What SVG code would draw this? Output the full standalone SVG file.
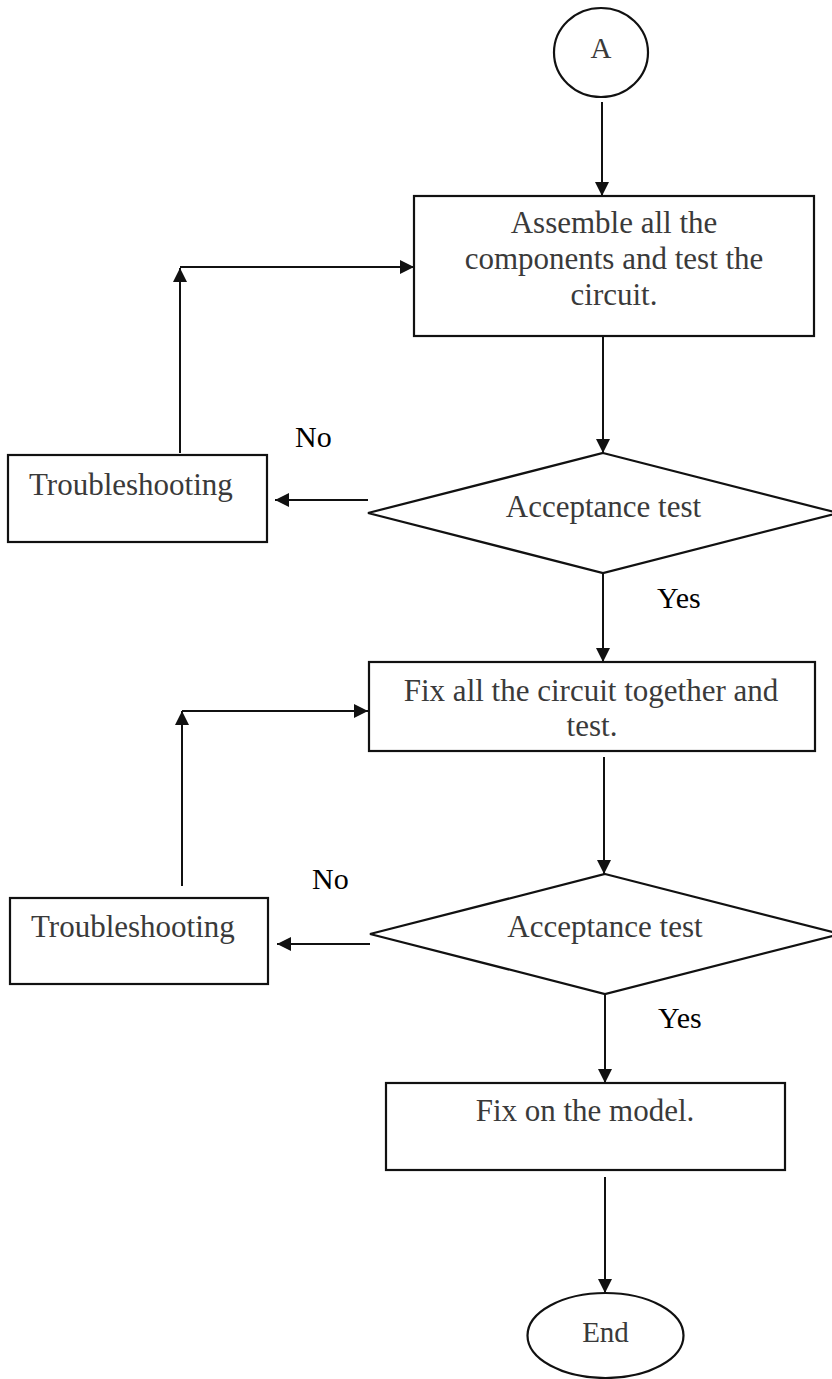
<svg xmlns="http://www.w3.org/2000/svg" width="832" height="1379" viewBox="0 0 832 1379">
<style>
.shape{fill:#fff;stroke:#111;stroke-width:2.2}
.conn{fill:none;stroke:#111;stroke-width:2}
.t{font-family:"Liberation Serif","Times New Roman",serif;font-size:31px;fill:#3a3a3a}
.c{text-anchor:middle}
.lbl{font-family:"Liberation Serif","Times New Roman",serif;font-size:30px;fill:#000}
</style>
<defs>
<marker id="ah" markerUnits="userSpaceOnUse" markerWidth="14" markerHeight="14" refX="13" refY="6.5" orient="auto" viewBox="0 0 13 13">
<path d="M0,0 L13,6.5 L0,13 z" fill="#111"/>
</marker>
</defs>
<rect width="832" height="1379" fill="#fff"/>
<g id="connectors">
<path class="conn" d="M602,102 L602,196" marker-end="url(#ah)"/>
<path class="conn" d="M603,336 L603,453" marker-end="url(#ah)"/>
<path class="conn" d="M368,500 L275,500" marker-end="url(#ah)"/>
<path class="conn" d="M180,453 L180,268" marker-end="url(#ah)"/>
<path class="conn" d="M180,267 L414,267" marker-end="url(#ah)"/>
<path class="conn" d="M603,573 L603,662" marker-end="url(#ah)"/>
<path class="conn" d="M604,757 L604,874" marker-end="url(#ah)"/>
<path class="conn" d="M370,944 L277,944" marker-end="url(#ah)"/>
<path class="conn" d="M182,886 L182,711" marker-end="url(#ah)"/>
<path class="conn" d="M182,711 L368,711" marker-end="url(#ah)"/>
<path class="conn" d="M605,994 L605,1083" marker-end="url(#ah)"/>
<path class="conn" d="M605,1177 L605,1293" marker-end="url(#ah)"/>
</g>
<g id="start">
<ellipse class="shape" cx="601" cy="52.5" rx="47" ry="44.5"/>
<text class="t c" x="601" y="58" style="font-size:29px">A</text>
</g>
<g id="assemble">
<rect class="shape" x="414" y="196" width="400" height="140"/>
<text class="t c" x="614" y="233">Assemble all the</text>
<text class="t c" x="614" y="269">components and test the</text>
<text class="t c" x="614" y="305">circuit.</text>
</g>
<g id="decision1">
<polygon class="shape" points="603,453 838,513 603,573 368,513"/>
<text class="t c" x="603.5" y="517">Acceptance test</text>
</g>
<g id="trouble1">
<rect class="shape" x="8" y="455" width="259" height="87"/>
<text class="t" x="29" y="495">Troubleshooting</text>
</g>
<g id="fixall">
<rect class="shape" x="369" y="662" width="446" height="89"/>
<text class="t c" x="591" y="701">Fix all the circuit together and</text>
<text class="t c" x="592" y="736">test.</text>
</g>
<g id="decision2">
<polygon class="shape" points="605,874 840,934 605,994 370,934"/>
<text class="t c" x="605" y="937">Acceptance test</text>
</g>
<g id="trouble2">
<rect class="shape" x="10" y="898" width="258" height="86"/>
<text class="t" x="31" y="937">Troubleshooting</text>
</g>
<g id="fixmodel">
<rect class="shape" x="386" y="1083" width="399" height="87"/>
<text class="t c" x="585" y="1121">Fix on the model.</text>
</g>
<g id="end">
<ellipse class="shape" cx="605.5" cy="1335.5" rx="78" ry="42.5"/>
<text class="t c" x="605.5" y="1342" style="font-size:29px">End</text>
</g>
<g id="labels">
<text class="lbl" x="295" y="447">No</text>
<text class="lbl" x="657" y="608">Yes</text>
<text class="lbl" x="312" y="889">No</text>
<text class="lbl" x="658" y="1028">Yes</text>
</g>
</svg>
